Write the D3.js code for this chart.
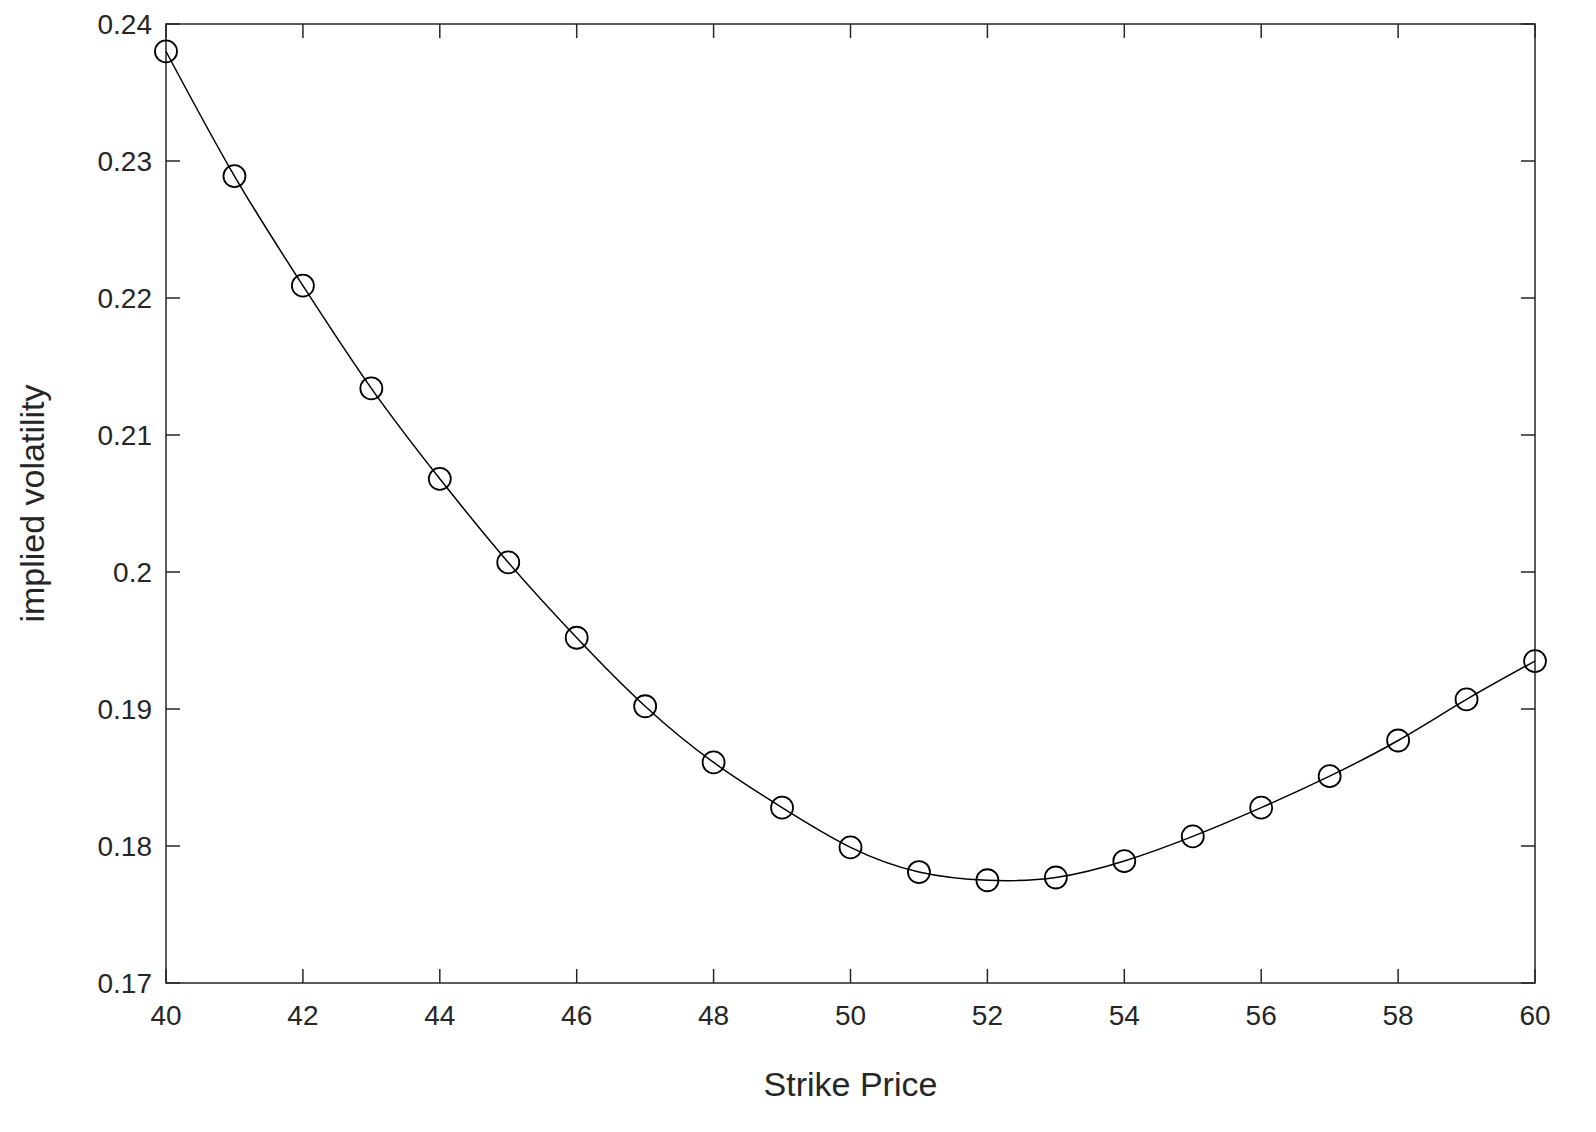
<!DOCTYPE html>
<html>
<head>
<meta charset="UTF-8" />
<script src="https://d3js.org/d3.v7.min.js"></script>
<style>
  body { margin: 0; background: #fff; }
  text { font-family: "Liberation Sans", Arial, sans-serif; fill: #262626; }
</style>
</head>
<body>
<svg width="1596" height="1132"></svg>
<script>
  const strikes = [40,41,42,43,44,45,46,47,48,49,50,51,52,53,54,55,56,57,58,59,60];
  const vols = [0.2380,0.2289,0.2209,0.2134,0.2068,0.2007,0.1952,0.1902,0.1861,0.1828,0.1799,
                0.1781,0.1775,0.1777,0.1789,0.1807,0.1828,0.1851,0.1877,0.1907,0.1935];
  const xTicks = [40,42,44,46,48,50,52,54,56,58,60];
  const yTicks = [0.17,0.18,0.19,0.2,0.21,0.22,0.23,0.24];

  const svg = d3.select("svg");
  const pLeft = 166, pRight = 1535, pTop = 24, pBottom = 983;
  const x = d3.scaleLinear().domain([40, 60]).range([pLeft, pRight]);
  const y = d3.scaleLinear().domain([0.17, 0.24]).range([pBottom, pTop]);

  // boîte des axes
  svg.append("rect").attr("x", pLeft).attr("y", pTop)
    .attr("width", pRight - pLeft).attr("height", pBottom - pTop)
    .attr("fill", "none").attr("stroke", "#262626").attr("stroke-width", 1.5);

  const tl = 14;
  xTicks.forEach(t => {
    svg.append("line").attr("x1", x(t)).attr("x2", x(t)).attr("y1", pBottom).attr("y2", pBottom - tl).attr("stroke", "#262626").attr("stroke-width", 1.5);
    svg.append("line").attr("x1", x(t)).attr("x2", x(t)).attr("y1", pTop).attr("y2", pTop + tl).attr("stroke", "#262626").attr("stroke-width", 1.5);
    svg.append("text").attr("x", x(t)).attr("y", pBottom + 42).attr("text-anchor", "middle")
      .style("font-size", "28px").text(t);
  });
  yTicks.forEach(t => {
    svg.append("line").attr("x1", pLeft).attr("x2", pLeft + tl).attr("y1", y(t)).attr("y2", y(t)).attr("stroke", "#262626").attr("stroke-width", 1.5);
    svg.append("line").attr("x1", pRight).attr("x2", pRight - tl).attr("y1", y(t)).attr("y2", y(t)).attr("stroke", "#262626").attr("stroke-width", 1.5);
    svg.append("text").attr("x", pLeft - 14).attr("y", y(t) + 10).attr("text-anchor", "end")
      .style("font-size", "28px").text(String(+t.toFixed(2)));
  });

  svg.append("text").attr("x", (pLeft + pRight) / 2).attr("y", 1096).attr("text-anchor", "middle")
    .style("font-size", "34px").text("Strike Price");
  svg.append("text").attr("transform", `translate(44,${(pTop + pBottom) / 2}) rotate(-90)`)
    .attr("text-anchor", "middle").style("font-size", "34px").text("implied volatility");

  const pts = strikes.map((s, i) => [s, vols[i]]);
  svg.append("path").datum(pts)
    .attr("d", d3.line().x(d => x(d[0])).y(d => y(d[1])).curve(d3.curveNatural))
    .attr("fill", "none").attr("stroke", "#000").attr("stroke-width", 1.5);
  svg.selectAll(".pt").data(pts).enter().append("circle")
    .attr("cx", d => x(d[0])).attr("cy", d => y(d[1])).attr("r", 11)
    .attr("fill", "none").attr("stroke", "#000").attr("stroke-width", 1.8);
</script>
</body>
</html>
